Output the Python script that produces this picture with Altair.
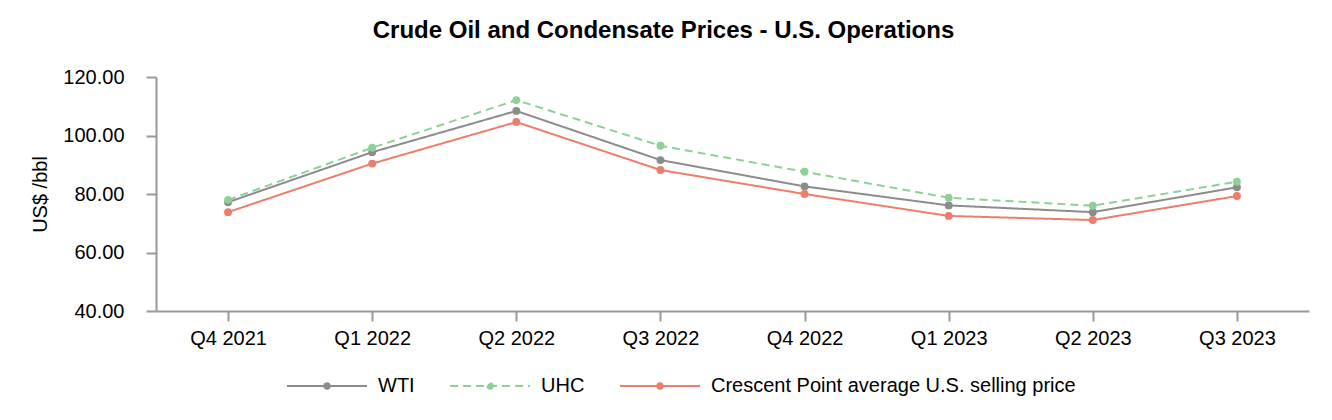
import altair as alt
import pandas as pd

quarters = ["Q4 2021", "Q1 2022", "Q2 2022", "Q3 2022", "Q4 2022", "Q1 2023", "Q2 2023", "Q3 2023"]
wti = [77.2, 94.3, 108.4, 91.6, 82.6, 76.1, 73.8, 82.3]
uhc = [78.0, 95.8, 112.1, 96.5, 87.6, 78.7, 76.0, 84.2]
crescent = [73.8, 90.4, 104.6, 88.2, 80.0, 72.5, 71.1, 79.3]
series_names = ["WTI", "UHC", "Crescent Point average U.S. selling price"]
series_colors = ["#8c8c8c", "#8fcf98", "#ee7e6c"]
series_dash = [[1, 0], [8, 5], [1, 0]]

rows = []
for name, vals in zip(series_names, [wti, uhc, crescent]):
    for q, v in zip(quarters, vals):
        rows.append({"quarter": q, "price": v, "series": name})
df = pd.DataFrame(rows)

FONT = "Liberation Sans"

color = alt.Color(
    "series:N",
    scale=alt.Scale(domain=series_names, range=series_colors),
    legend=alt.Legend(
        title=None,
        orient="none",
        legendX=130,
        legendY=268,
        direction="horizontal",
        symbolType="M0.07,0A0.07,0.07,0,1,1,-0.07,0A0.07,0.07,0,1,1,0.07,0M-1,0H1",
        symbolSize=6400,
        symbolStrokeWidth=2,
        labelOffset=10,
        columnPadding=31,
        labelFontSize=20,
        labelFont=FONT,
        labelColor="#000000",
        labelLimit=0,
    ),
)
dash = alt.StrokeDash(
    "series:N",
    scale=alt.Scale(domain=series_names, range=series_dash),
    legend=None,
)

x = alt.X(
    "quarter:N",
    sort=quarters,
    title=None,
    scale=alt.Scale(type="point", padding=0.5),
    axis=alt.Axis(
        labelAngle=0,
        labelFontSize=20,
        labelFont=FONT,
        labelColor="#000000",
        labelPadding=7,
        tickSize=10,
        tickColor="#999999",
        domainColor="#999999",
        domainWidth=2,
        tickWidth=2,
        grid=False,
    ),
)
y = alt.Y(
    "price:Q",
    title="US$ /bbl",
    scale=alt.Scale(domain=[40, 120], nice=False, zero=False),
    axis=alt.Axis(
        values=[40, 60, 80, 100, 120],
        format=".2f",
        labelFontSize=20,
        labelFont=FONT,
        labelColor="#000000",
        labelPadding=22,
        tickSize=10,
        tickColor="#999999",
        domainColor="#999999",
        domainWidth=2,
        tickWidth=2,
        grid=False,
        titleFontSize=20,
        titleFont=FONT,
        titleFontWeight="normal",
        titleColor="#000000",
        titlePadding=12,
    ),
)

lines = alt.Chart(df).mark_line(strokeWidth=2).encode(x=x, y=y, color=color, strokeDash=dash)
points = alt.Chart(df).mark_circle(size=62, opacity=1).encode(
    x=x, y=y, color=alt.Color("series:N", scale=alt.Scale(domain=series_names, range=series_colors), legend=None)
)

chart = (
    alt.layer(lines, points)
    .properties(
        width=1153,
        height=234,
        background="white",
        title=alt.TitleParams(
            "Crude Oil and Condensate Prices - U.S. Operations",
            font=FONT,
            fontSize=24,
            fontWeight="bold",
            color="#000000",
            offset=24,
            dx=-69,
        ),
        padding={"left": 22, "top": 11, "right": 5, "bottom": 5},
    )
    .configure_view(strokeWidth=0, stroke="transparent")
)

chart.save("out.html", embed_options={"renderer": "svg", "actions": False})
